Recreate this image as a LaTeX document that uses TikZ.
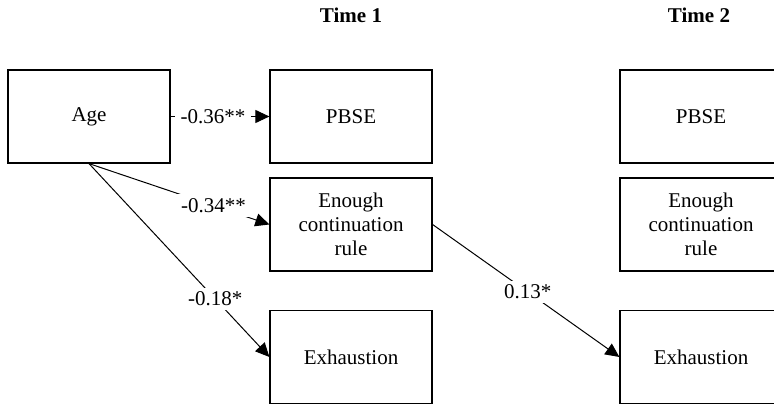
\documentclass[tikz,border=0pt]{standalone}
\usepackage{fontspec}
\setmainfont{Liberation Serif}
\usetikzlibrary{arrows.meta}
\begin{document}
\begin{tikzpicture}[x=1pt,y=-1pt,
  var/.style={draw, line width=1.2pt, minimum width=162pt, minimum height=93pt,
    inner sep=0pt, align=center, font=\fontsize{21}{24}\selectfont},
  effect/.style={line width=1pt, -{Triangle[length=14pt,width=13pt]}},
  coef/.style={fill=white, inner xsep=6pt, inner ysep=4pt, font=\fontsize{21}{24}\selectfont},
  heading/.style={font=\fontsize{21}{24}\selectfont\bfseries}]
\useasboundingbox (0,0) rectangle (774,404);
\clip (0,0) rectangle (774,404);

% column headings
\node[heading] (t1) at (351,15) {Time 1};
\node[heading] (t2) at (699,15) {Time 2};

% predictor
\node[var] (age) at (89,116.5) {Age};

% Time 1 variables
\node[var] (pbse1)   at (351,116.5) {PBSE};
\node[var] (enough1) at (351,224.5) {Enough\\continuation\\rule};
\node[var] (exh1)    at (351,357)   {Exhaustion};

% Time 2 variables
\node[var] (pbse2)   at (701,116.5) {PBSE};
\node[var] (enough2) at (701,224.5) {Enough\\continuation\\rule};
\node[var] (exh2)    at (701,357)   {Exhaustion};

% paths with standardized coefficients
\draw[effect] (age.east) -- node[coef, pos=0.43] {-0.36**} (pbse1.west);
\draw[effect] (age.south) -- node[coef, pos=0.69] {-0.34**} (enough1.west);
\draw[effect] (age.south) -- node[coef, pos=0.7] {-0.18*} (exh1.west);
\draw[effect] (enough1.east) -- node[coef, pos=0.51] {0.13*} (exh2.west);
\end{tikzpicture}
\end{document}
